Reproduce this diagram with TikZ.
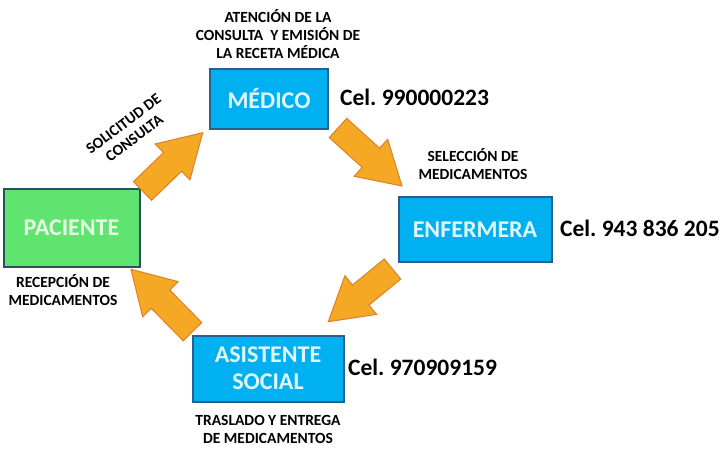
\documentclass[tikz,border=0pt]{standalone}
\usepackage{fontspec}
\setmainfont{Carlito}
\usetikzlibrary{calc}
\frenchspacing
\definecolor{boxblue}{RGB}{0,176,240}
\definecolor{blueedge}{RGB}{40,95,140}
\definecolor{boxgreen}{RGB}{96,228,112}
\definecolor{greenedge}{RGB}{45,80,95}
\definecolor{arrfill}{RGB}{244,168,36}
\definecolor{arredge}{RGB}{222,128,40}
\definecolor{bluetext}{RGB}{225,247,255}
\definecolor{greentext}{RGB}{230,252,230}
\tikzset{
  rolebox/.style={draw=blueedge, line width=2pt, fill=boxblue, inner sep=0pt,
    font=\fontsize{24}{27}\selectfont\bfseries, text=bluetext, align=center},
  greenbox/.style={rolebox, draw=greenedge, fill=boxgreen, text=greentext},
  note/.style={font=\fontsize{15.5}{18}\selectfont\bfseries, align=center, text=black, inner sep=0pt},
  cel/.style={font=\fontsize{23.5}{27}\selectfont\bfseries, anchor=west, inner sep=0pt},
  blockarrow/.style={draw=arredge, line width=1pt, fill=arrfill, line join=miter}
}
\newcommand\blkarrow[2]{%
  \coordinate (#1b) at ($(#2)!42pt!(#1)$);
  \draw[blockarrow] ($(#1)!13pt!90:(#2)$) -- ($(#1b)!13pt!90:(#2)$) -- ($(#1b)!25pt!90:(#2)$)
    -- (#2) -- ($(#1b)!25pt!-90:(#2)$) -- ($(#1b)!13pt!-90:(#2)$) -- ($(#1)!13pt!-90:(#2)$) -- cycle;}
\begin{document}
\begin{tikzpicture}[x=1pt,y=-1pt]
\useasboundingbox[fill=white] (0,0) rectangle (723,460);
% boxes
\node[rolebox, minimum width=118pt, minimum height=60pt] (medico) at (269,99) {MÉDICO};
\node[greenbox, minimum width=136pt, minimum height=78pt] (paciente) at (71.5,227.5) {PACIENTE};
\node[rolebox, minimum width=153pt, minimum height=65pt] (enfermera) at (475,229.5) {ENFERMERA};
\node[rolebox, minimum width=151pt, minimum height=66pt] (asistente) at (268,368.5) {ASISTENTE\\SOCIAL};
% notes
\node[note] (n1) at (278,34.5) {ATENCIÓN DE LA\\CONSULTA\ \ Y EMISIÓN DE\\LA RECETA MÉDICA};
\node[note] (n2) at (473,164) {SELECCIÓN DE\\MEDICAMENTOS};
\node[note] (n3) at (63,290) {RECEPCIÓN DE\\MEDICAMENTOS};
\node[note] (n4) at (268,429) {TRASLADO Y ENTREGA\\DE MEDICAMENTOS};
\node[note, rotate=37] (n5) at (129,131) {SOLICITUD DE\\CONSULTA};
% phone numbers
\node[cel] (c1) at (340,97) {Cel. 990000223};
\node[cel] (c2) at (560,228) {Cel. 943 836 205};
\node[cel] (c3) at (348,367) {Cel. 970909159};
% arrows
\coordinate (a1) at (142.5,191);   \coordinate (a1h) at (202.7,132.7);
\coordinate (a2) at (338,128);     \coordinate (a2h) at (402,186);
\coordinate (a3) at (392.5,269);   \coordinate (a3h) at (328.3,321.7);
\coordinate (a4) at (192.5,331.7); \coordinate (a4h) at (131,269.3);
\blkarrow{a1}{a1h}
\blkarrow{a2}{a2h}
\blkarrow{a3}{a3h}
\blkarrow{a4}{a4h}
\end{tikzpicture}
\end{document}
